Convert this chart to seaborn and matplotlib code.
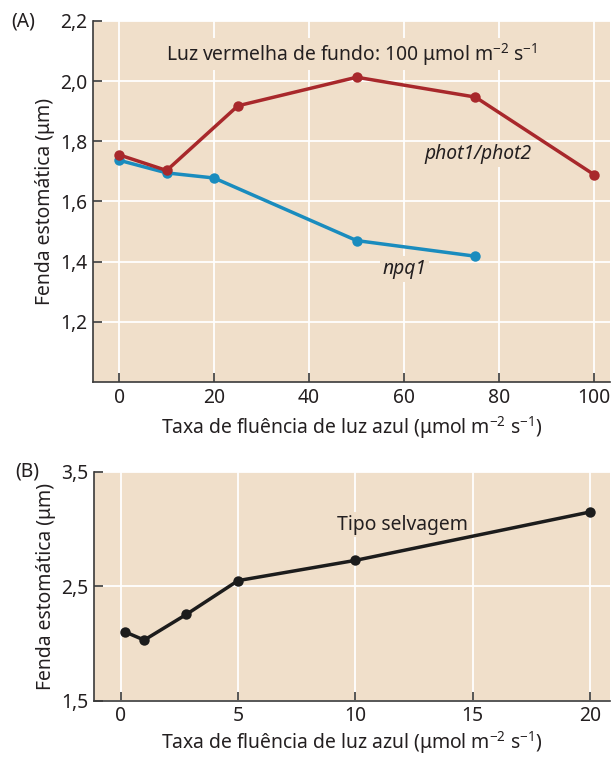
import matplotlib
matplotlib.use('Agg')
import matplotlib.pyplot as plt
import seaborn as sns
import pandas as pd

# Dados do painel (A)
fluencia_phot = [0, 10, 25, 50, 75, 100]
fenda_phot = [1.755, 1.703, 1.918, 2.013, 1.947, 1.689]
fluencia_npq = [0, 10, 20, 50, 75]
fenda_npq = [1.737, 1.695, 1.678, 1.470, 1.418]

# Dados do painel (B)
fluencia_selv = [0.2, 1.0, 2.8, 5.0, 10.0, 20.0]
fenda_selv = [2.10, 2.03, 2.255, 2.55, 2.727, 3.15]

# Ticks
xticks_a = [0, 20, 40, 60, 80, 100]
yticks_a = [1.2, 1.4, 1.6, 1.8, 2.0, 2.2]
ylabels_a = ['1,2', '1,4', '1,6', '1,8', '2,0', '2,2']
xticks_b = [0, 5, 10, 15, 20]
yticks_b = [1.5, 2.5, 3.5]
ylabels_b = ['1,5', '2,5', '3,5']

FUNDO = '#f0dfca'
VERMELHO = '#a8282b'
AZUL = '#1a8cbe'
PRETO = '#1c1c1c'
TEXTO = '#231f20'

sns.set_theme(style='whitegrid', rc={
    'axes.facecolor': FUNDO,
    'grid.color': 'white',
    'grid.linewidth': 1.3,
    'axes.edgecolor': '#3a3a3a',
    'axes.linewidth': 1.2,
    'xtick.direction': 'in',
    'ytick.direction': 'in',
    'xtick.major.size': 6.5,
    'ytick.major.size': 6.5,
    'xtick.major.width': 1.2,
    'ytick.major.width': 1.2,
    'xtick.bottom': True,
    'ytick.left': True,
    'xtick.color': '#3a3a3a',
    'ytick.color': '#3a3a3a',
    'xtick.labelcolor': TEXTO,
    'ytick.labelcolor': TEXTO,
    'text.color': TEXTO,
    'axes.labelcolor': TEXTO,
})
plt.rcParams['font.family'] = ['Noto Sans', 'DejaVu Sans']
plt.rcParams['mathtext.fontset'] = 'custom'
plt.rcParams['mathtext.rm'] = 'Noto Sans'
plt.rcParams['mathtext.it'] = 'Noto Sans:italic'

XLABEL = r'Taxa de fluência de luz azul (μmol m$^{-2}$ s$^{-1}$)'
YLABEL = 'Fenda estomática (μm)'
FS = 13.9

fig = plt.figure(figsize=(6.16, 7.57), dpi=100)
ax_a = fig.add_axes([0.151, 0.4954, 0.839, 0.4769])
ax_b = fig.add_axes([0.1526, 0.0744, 0.8374, 0.3021])

df_phot = pd.DataFrame({'x': fluencia_phot, 'y': fenda_phot})
df_npq = pd.DataFrame({'x': fluencia_npq, 'y': fenda_npq})
df_selv = pd.DataFrame({'x': fluencia_selv, 'y': fenda_selv})

estilo = dict(marker='o', markersize=7.5, linewidth=2.5, markeredgewidth=0)

# Painel (A)
sns.lineplot(data=df_npq, x='x', y='y', color=AZUL, ax=ax_a, **estilo)
sns.lineplot(data=df_phot, x='x', y='y', color=VERMELHO, ax=ax_a, **estilo)
ax_a.set_xlim(-5.5, 103.3)
ax_a.set_ylim(1.0, 2.2)
ax_a.set_xticks(xticks_a)
ax_a.set_yticks(yticks_a)
ax_a.set_yticklabels(ylabels_a)

# caixas por baixo das linhas mas por cima da grelha
caixa = dict(facecolor=FUNDO, edgecolor='none', pad=2)
ax_a.text(49, 2.09, r'Luz vermelha de fundo: 100 μmol m$^{-2}$ s$^{-1}$',
          ha='center', va='center', fontsize=FS, bbox=caixa, zorder=1.5)
ax_a.text(75.5, 1.757, 'phot1/phot2', style='italic', ha='center', va='center',
          fontsize=FS, bbox=caixa, zorder=1.5)
ax_a.text(60.1, 1.375, 'npq1', style='italic', ha='center', va='center',
          fontsize=FS, bbox=caixa, zorder=1.5)

# Painel (B)
sns.lineplot(data=df_selv, x='x', y='y', color=PRETO, ax=ax_b, **estilo)
ax_b.set_xlim(-1.14, 20.85)
ax_b.set_ylim(1.5, 3.5)
ax_b.set_xticks(xticks_b)
ax_b.set_yticks(yticks_b)
ax_b.set_yticklabels(ylabels_b)
ax_b.text(12.0, 3.04, 'Tipo selvagem', ha='center', va='center', fontsize=FS,
          bbox=caixa, zorder=1.5)

for ax, pad in ((ax_a, 5), (ax_b, 2)):
    ax.set_xlabel(XLABEL, fontsize=FS, labelpad=pad)
    ax.set_ylabel(YLABEL, fontsize=FS, labelpad=4)
    ax.tick_params(labelsize=FS, pad=4)
    for lado in ('top', 'right'):
        ax.spines[lado].set_visible(False)
    ax.set_axisbelow(True)

fig.text(0.019, 0.972, '(A)', fontsize=FS, ha='left', va='center')
fig.text(0.024, 0.3765, '(B)', fontsize=FS, ha='left', va='center')

plt.savefig('out.png', dpi=100)
